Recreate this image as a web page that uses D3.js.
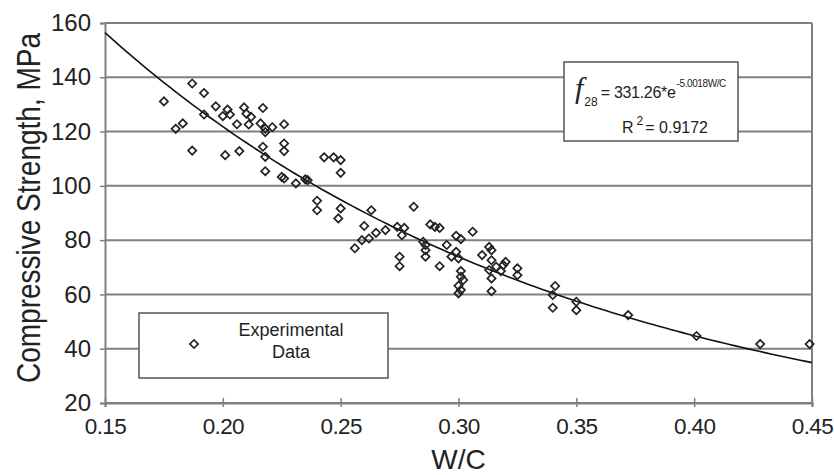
<!DOCTYPE html>
<html>
<head>
<meta charset="utf-8">
<script src="https://cdn.jsdelivr.net/npm/d3@7"></script>
<style>
    body { margin: 0; background: #fff; }
    svg text { font-family: "Liberation Sans", Arial, sans-serif; fill: #222; }
</style>
</head>
<body>
<svg id="chart"></svg>
<script>
// water / cement ratio of each specimen
const wc = [
    0.187, 0.192, 0.175, 0.197, 0.202, 0.209, 0.217, 0.192, 0.200, 0.203,
    0.210, 0.212, 0.183, 0.180, 0.206, 0.211, 0.216, 0.218, 0.218, 0.221,
    0.226, 0.187, 0.201, 0.207, 0.217, 0.218, 0.226, 0.226, 0.218, 0.225,
    0.226, 0.231, 0.235, 0.236, 0.243, 0.247, 0.250, 0.250, 0.240, 0.240,
    0.250, 0.249, 0.263, 0.281, 0.260, 0.256, 0.259, 0.262, 0.265, 0.269,
    0.274, 0.277, 0.276, 0.275, 0.275, 0.288, 0.290, 0.292, 0.285, 0.286,
    0.286, 0.286, 0.295, 0.297, 0.299, 0.300, 0.299, 0.301, 0.306, 0.292,
    0.301, 0.301, 0.302, 0.300, 0.301, 0.300, 0.310, 0.313, 0.314, 0.314,
    0.316, 0.313, 0.319, 0.320, 0.318, 0.314, 0.314, 0.325, 0.325, 0.341,
    0.340, 0.340, 0.350, 0.350, 0.372, 0.401, 0.428, 0.449
];
// 28-day compressive strength, MPa
const strength = [
    137.7, 134.2, 131.1, 129.3, 128.1, 128.9, 128.7, 126.3, 125.7, 126.3,
    126.6, 125.4, 123.0, 121.0, 122.7, 122.6, 123.0, 121.1, 119.8, 121.6,
    122.7, 113.0, 111.3, 112.8, 114.4, 110.7, 115.6, 112.8, 105.4, 103.3,
    102.7, 100.9, 102.4, 102.1, 110.5, 110.5, 109.5, 104.8, 94.5, 91.0,
    91.7, 88.0, 91.0, 92.3, 85.2, 77.0, 80.0, 80.6, 82.7, 83.7,
    84.9, 84.5, 81.8, 73.9, 70.4, 85.8, 84.9, 84.5, 79.4, 78.2,
    76.3, 73.9, 78.2, 73.9, 75.7, 73.3, 81.6, 80.4, 83.1, 70.4,
    68.6, 66.5, 65.3, 63.2, 61.6, 60.4, 74.5, 77.5, 76.3, 72.6,
    70.2, 69.0, 70.8, 72.0, 68.6, 65.9, 61.2, 69.6, 67.1, 63.1,
    59.8, 55.1, 57.3, 54.2, 52.4, 44.7, 41.7, 41.7
];

const xTicks = [0.15, 0.20, 0.25, 0.30, 0.35, 0.40, 0.45];
const yTicks = [20, 40, 60, 80, 100, 120, 140, 160];

// exponential fit f28 = a * e^(b * W/C)
const fitA = 331.26;
const fitB = -5.0018;
const fitR2 = 0.9172;

const width = 834, height = 475;
const margin = {left: 105, right: 22, top: 23, bottom: 72};

const svg = d3.select("#chart")
    .attr("width", width)
    .attr("height", height);

const x = d3.scaleLinear().domain([0.15, 0.45]).range([margin.left, width - margin.right]);
const y = d3.scaleLinear().domain([20, 160]).range([height - margin.bottom, margin.top]);

const gridColor = "#808080";

// horizontal grid lines
svg.append("g")
    .selectAll("line")
    .data(yTicks)
    .join("line")
    .attr("x1", x(0.15))
    .attr("x2", x(0.45))
    .attr("y1", d => y(d))
    .attr("y2", d => y(d))
    .attr("stroke", gridColor)
    .attr("stroke-width", 2);

// right border
svg.append("line")
    .attr("x1", x(0.45)).attr("x2", x(0.45))
    .attr("y1", y(160)).attr("y2", y(20))
    .attr("stroke", gridColor)
    .attr("stroke-width", 2);

// axes
const yAxis = d3.axisLeft(y)
    .tickValues(yTicks)
    .tickSize(5)
    .tickPadding(9);

const xAxis = d3.axisBottom(x)
    .tickValues(xTicks)
    .tickFormat(d3.format(".2f"))
    .tickSize(4)
    .tickPadding(11);

const gy = svg.append("g")
    .attr("transform", `translate(${x(0.15)},0)`)
    .call(yAxis);

const gx = svg.append("g")
    .attr("transform", `translate(0,${y(20)})`)
    .call(xAxis);

// ticks cross the x axis
gx.selectAll(".tick line").attr("y1", -5).attr("y2", 4);

[gx, gy].forEach(g => {
    g.select(".domain").attr("stroke", gridColor).attr("stroke-width", 2);
    g.selectAll(".tick line").attr("stroke", gridColor).attr("stroke-width", 1.5);
    g.selectAll(".tick text")
        .style("font-family", "'Liberation Sans', Arial, sans-serif")
        .attr("fill", "#222");
});
gy.selectAll(".tick text").attr("font-size", 24);
gx.selectAll(".tick text").attr("font-size", 22.5).attr("letter-spacing", -0.6);

// axis titles
svg.append("text")
    .attr("x", x(0.30))
    .attr("y", 469)
    .attr("text-anchor", "middle")
    .attr("font-size", 28)
    .text("W/C");

svg.append("text")
    .attr("transform", "translate(40,208) rotate(-90) scale(1,1.18)")
    .attr("text-anchor", "middle")
    .attr("font-size", 28)
    .text("Compressive Strength, MPa");

// fitted curve
const plotArea = svg.append("g");
const curveX = d3.range(0.15, 0.4501, 0.0025);
const line = d3.line()
    .x(d => x(d))
    .y(d => y(fitA * Math.exp(fitB * d)));

plotArea.append("path")
    .datum(curveX)
    .attr("d", line)
    .attr("fill", "none")
    .attr("stroke", "#111")
    .attr("stroke-width", 1.6);

// data points (open diamonds)
const diamond = d3.symbol().type(d3.symbolSquare).size(34);
const points = wc.map((d, i) => ({wc: d, fc: strength[i]}));

plotArea.append("g")
    .selectAll("path")
    .data(points)
    .join("path")
    .attr("d", diamond)
    .attr("transform", d => `translate(${x(d.wc)},${y(d.fc)}) rotate(45)`)
    .attr("fill", "none")
    .attr("stroke", "#222")
    .attr("stroke-width", 1.7);

// equation box
const eq = svg.append("g");
eq.append("rect")
    .attr("x", 564).attr("y", 62)
    .attr("width", 174).attr("height", 79)
    .attr("fill", "#fff")
    .attr("stroke", "#555")
    .attr("stroke-width", 1.5);

const eqLine = eq.append("text")
    .attr("x", 575)
    .attr("y", 98)
    .attr("font-size", 16);
eqLine.append("tspan")
    .style("font-family", "'Liberation Serif', serif")
    .attr("font-style", "italic")
    .attr("font-size", 30)
    .text("f");
eqLine.append("tspan")
    .attr("font-size", 12)
    .attr("dy", 8)
    .attr("dx", 1)
    .text("28");
eqLine.append("tspan")
    .attr("dy", -8)
    .attr("dx", 3)
    .attr("letter-spacing", -0.3)
    .text(`= ${fitA}*e`);
eqLine.append("tspan")
    .attr("font-size", 10)
    .attr("dy", -11)
    .attr("dx", 1)
    .attr("letter-spacing", -0.4)
    .text(`${fitB}W/C`);

const r2 = eq.append("text")
    .attr("x", 622)
    .attr("y", 133)
    .attr("font-size", 16);
r2.append("tspan").text("R");
r2.append("tspan").attr("font-size", 12).attr("dy", -8).attr("dx", 3).text("2");
r2.append("tspan").attr("dy", 8).attr("dx", 2).text(`= ${fitR2}`);

// legend
const legend = svg.append("g");
legend.append("rect")
    .attr("x", 139).attr("y", 313)
    .attr("width", 249).attr("height", 65)
    .attr("fill", "#fff")
    .attr("stroke", "#555")
    .attr("stroke-width", 1.5);

legend.append("path")
    .attr("d", diamond)
    .attr("transform", "translate(194,344) rotate(45)")
    .attr("fill", "none")
    .attr("stroke", "#222")
    .attr("stroke-width", 1.7);

legend.selectAll("text.leg")
    .data(["Experimental", "Data"])
    .join("text")
    .attr("class", "leg")
    .attr("x", 291)
    .attr("y", (d, i) => 336 + i * 22)
    .attr("text-anchor", "middle")
    .attr("font-size", 18)
    .text(d => d);
</script>
</body>
</html>
